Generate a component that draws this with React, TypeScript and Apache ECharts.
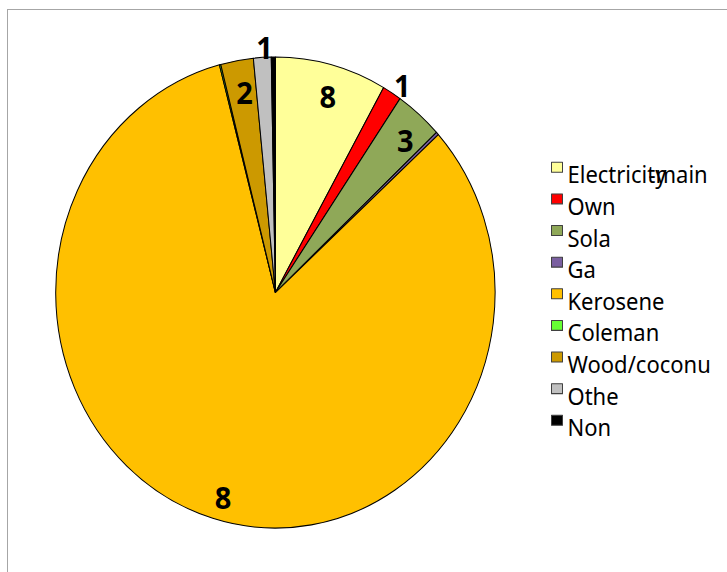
import React, { useEffect, useRef } from "react";
import * as echarts from "echarts";

const categories = [
  "Electricity-main",
  "Own",
  "Sola",
  "Ga",
  "Kerosene",
  "Coleman",
  "Wood/coconu",
  "Othe",
  "Non",
];
const values = [8.2, 1.4, 3.5, 0.2, 82.6, 0.1, 2.4, 1.3, 0.3];
const colors = [
  "#FFFF99",
  "#FF0000",
  "#8FA858",
  "#7A5FA0",
  "#FFC000",
  "#66FF33",
  "#CC9900",
  "#C0C0C0",
  "#000000",
];

const SY = 1.072; // vertical stretch of the original ellipse
const W = 727;
const H = 572 / SY;
const R = 219.7;
const CX = 275.4;
const CY = 272.9;

// legend swatch: square at the top of a taller (empty) box, so it sits above the text centre
const SWATCH = "path://M0,0L11,0L11,9.3L0,9.3ZM0,22.9";

export default function App() {
  const ref = useRef<HTMLDivElement>(null);
  useEffect(() => {
    if (!ref.current) return;
    const chart = echarts.init(ref.current, null, { renderer: "svg" });
    const data = categories.map((name, i) => ({
      name,
      value: values[i],
      itemStyle: { color: colors[i] },
    }));
    const firstChar = (p: any) => String(p.value).charAt(0);
    const labelStyle = {
      color: "#000",
      fontFamily: "Noto Sans",
      fontWeight: "bold" as const,
      fontSize: 29,
      offset: [3, 4.5],
    };
    const ghost = (radius: number[], test: (v: number) => boolean) => ({
      type: "pie",
      center: [CX, CY],
      radius,
      startAngle: 90,
      clockwise: true,
      silent: true,
      avoidLabelOverlap: false,
      itemStyle: { color: "rgba(0,0,0,0)", borderWidth: 0 },
      emphasis: { disabled: true },
      labelLine: { show: false },
      data: categories.map((name, i) => ({
        name,
        value: values[i],
        itemStyle: { color: "rgba(0,0,0,0)" },
        label: { show: test(values[i]) },
      })),
      label: {
        position: "inside",
        formatter: firstChar,
        ...labelStyle,
      },
    });
    const legendFont = { fontFamily: "Noto Sans", fontSize: 22, color: "#000" };
    chart.setOption({
      animation: false,
      color: colors,
      legend: {
        orient: "vertical",
        left: 551,
        top: 150.9,
        padding: 0,
        data: categories,
        icon: SWATCH,
        itemWidth: 11,
        itemHeight: 22.9,
        itemGap: 5.6,
        selectedMode: false,
        itemStyle: { borderColor: "#404040", borderWidth: 1 },
        formatter: (name: string) => {
          const k = name.indexOf("-");
          if (k > 0) return `{a|${name.slice(0, k)}}{b|${name.slice(k)}}`;
          return `{a|${name}}`;
        },
        textStyle: {
          ...legendFont,
          lineHeight: 22,
          rich: {
            a: { ...legendFont, lineHeight: 22 },
            b: { ...legendFont, lineHeight: 22, padding: [0, 0, 0, -18] },
          },
        },
      },
      series: [
        {
          type: "pie",
          center: [CX, CY],
          radius: [0, R],
          startAngle: 90,
          clockwise: true,
          silent: true,
          label: { show: false },
          labelLine: { show: false },
          itemStyle: { borderColor: "#000", borderWidth: 1 },
          emphasis: { disabled: true },
          data,
        },
        ghost([0.74 * R, R], (v) => v >= 2),
        ghost([R, 1.1 * R], (v) => v >= 1 && v < 2),
      ],
    });
    return () => chart.dispose();
  }, []);

  return (
    <div
      style={{
        position: "fixed",
        left: 0,
        top: 0,
        width: W,
        height: 572,
        overflow: "hidden",
        background: "#fff",
      }}
    >
      <div
        style={{
          position: "absolute",
          left: 7,
          top: 9,
          width: 900,
          height: 800,
          border: "1px solid #A6A6A6",
          boxSizing: "border-box",
        }}
      />
      <div
        ref={ref}
        style={{
          position: "absolute",
          left: 0,
          top: 0,
          width: W,
          height: H,
          transform: `scaleY(${SY})`,
          transformOrigin: "0 0",
        }}
      />
    </div>
  );
}
